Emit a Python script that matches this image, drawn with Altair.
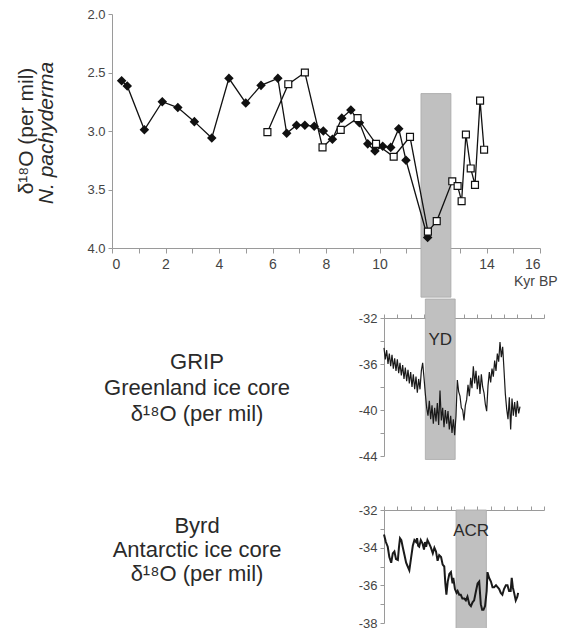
import altair as alt
import pandas as pd

# ---------------- data ----------------
# N. pachyderma d18O, filled-diamond record
diam_kyr = [0.36, 0.57, 1.21, 1.88, 2.46, 3.08, 3.73, 4.37, 5.00, 5.57, 6.20, 6.53, 6.90,
            7.21, 7.56, 7.90, 8.24, 8.59, 8.93, 9.25, 9.56, 9.83, 10.12, 10.42, 10.72, 10.99, 11.80]
diam_d18o = [2.57, 2.615, 2.99, 2.75, 2.80, 2.92, 3.06, 2.55, 2.76, 2.61, 2.55, 3.02, 2.95,
             2.95, 2.96, 3.00, 3.07, 2.89, 2.82, 2.93, 3.11, 3.17, 3.13, 3.14, 2.98, 3.25, 3.91]

# N. pachyderma d18O, open-square record
sq_kyr = [5.81, 6.59, 7.21, 7.87, 8.55, 9.18, 9.87, 10.53, 11.14, 11.81, 12.14, 12.72,
          12.92, 13.07, 13.23, 13.41, 13.57, 13.76, 13.91]
sq_d18o = [3.01, 2.60, 2.50, 3.14, 2.99, 2.89, 3.11, 3.22, 3.05, 3.86, 3.77, 3.43,
           3.47, 3.60, 3.03, 3.32, 3.46, 2.74, 3.16]

# GRIP (Greenland) d18O
grip_kyr = [10.00, 10.05, 10.10, 10.15, 10.20, 10.25, 10.30, 10.35, 10.40, 10.45,
            10.50, 10.55, 10.60, 10.65, 10.70, 10.75, 10.80, 10.85, 10.90, 10.95,
            11.00, 11.05, 11.10, 11.15, 11.20, 11.25, 11.30, 11.35, 11.40, 11.45,
            11.50, 11.55, 11.60, 11.65, 11.70, 11.75, 11.80, 11.85, 11.90, 11.95,
            12.00, 12.05, 12.10, 12.15, 12.20, 12.25, 12.30, 12.35, 12.40, 12.45,
            12.50, 12.55, 12.60, 12.65, 12.70, 12.75, 12.80, 12.85, 12.90, 12.95,
            13.00, 13.05, 13.10, 13.15, 13.20, 13.25, 13.30, 13.35, 13.40, 13.45,
            13.50, 13.55, 13.60, 13.65, 13.70, 13.75, 13.80, 13.85, 13.90, 13.95,
            14.00, 14.05, 14.10, 14.15, 14.20, 14.25, 14.30, 14.35, 14.40, 14.45,
            14.50, 14.55, 14.60, 14.65, 14.70, 14.75, 14.80, 14.85, 14.90, 14.95,
            15.00, 15.05, 15.10]
grip_d18o = [-34.6, -35.6, -34.8, -36.0, -35.1, -36.2, -35.2, -36.4, -35.5, -36.6,
             -35.6, -36.8, -35.9, -37.0, -36.1, -37.3, -36.3, -37.5, -36.5, -37.7,
             -36.7, -38.0, -36.9, -38.2, -37.1, -38.5, -37.3, -38.2, -36.6, -35.9,
             -37.2, -38.6, -39.8, -40.5, -39.2, -40.8, -39.6, -41.2, -39.8, -41.0,
             -39.4, -41.3, -38.3, -40.9, -39.8, -41.5, -40.0, -41.2, -40.1, -41.7,
             -40.5, -42.0, -40.8, -42.2, -40.5, -37.4, -38.4, -38.8, -39.8, -40.0,
             -40.9, -39.6, -39.1, -37.8, -38.8, -37.2, -38.1, -36.2, -37.7, -36.6,
             -38.2, -37.0, -38.6, -36.9, -38.0, -38.5, -39.5, -40.1, -37.9, -36.7,
             -37.6, -36.4, -37.1, -35.7, -36.6, -35.1, -35.8, -34.1, -35.4, -34.5,
             -36.5, -38.6, -39.9, -40.8, -38.9, -41.7, -39.0, -40.5, -39.3, -40.6,
             -39.2, -40.3, -39.7]

# Byrd (Antarctica) d18O
byrd_kyr = [10.00, 10.07, 10.14, 10.20, 10.27, 10.33, 10.39, 10.45, 10.52, 10.56,
            10.60, 10.65, 10.70, 10.77, 10.83, 10.89, 10.95, 11.01, 11.08, 11.14,
            11.20, 11.24, 11.28, 11.32, 11.38, 11.45, 11.50, 11.54, 11.58, 11.63,
            11.70, 11.76, 11.83, 11.89, 11.95, 12.01, 12.07, 12.14, 12.20, 12.26,
            12.30, 12.34, 12.39, 12.45, 12.51, 12.57, 12.60, 12.66, 12.72, 12.76,
            12.82, 12.88, 12.94, 13.01, 13.07, 13.13, 13.20, 13.26, 13.32, 13.38,
            13.45, 13.51, 13.57, 13.63, 13.68, 13.73, 13.79, 13.85, 13.88, 13.94,
            14.01, 14.07, 14.13, 14.20, 14.26, 14.32, 14.38, 14.44, 14.50, 14.57,
            14.63, 14.69, 14.75, 14.79, 14.83, 14.88, 14.94, 15.00, 15.03]
byrd_d18o = [-33.3, -33.7, -33.95, -34.5, -34.8, -34.3, -34.2, -34.6, -34.65, -34.0,
             -33.5, -33.6, -33.95, -34.4, -34.8, -35.0, -35.2, -34.6, -33.9, -33.6,
             -33.7, -33.5, -33.9, -33.95, -33.6, -33.8, -34.1, -33.7, -33.95, -33.6,
             -33.8, -34.0, -34.3, -34.0, -34.2, -34.7, -34.4, -34.5, -34.9, -35.0,
             -35.9, -36.5, -35.8, -35.4, -35.3, -35.9, -35.6, -36.2, -36.4, -36.3,
             -36.5, -36.5, -36.7, -36.7, -36.8, -36.6, -37.0, -37.1, -36.9, -36.8,
             -36.3, -35.9, -35.8, -37.0, -37.3, -37.3, -37.1, -36.3, -35.3, -35.6,
             -35.8, -36.1, -36.1, -36.0, -36.1, -36.2, -36.4, -36.5, -36.2, -36.0,
             -36.0, -36.3, -36.3, -35.6, -36.1, -36.4, -36.8, -36.6, -36.4]

# shaded intervals (kyr BP)
yd_band = [11.55, 12.67]
yd_top = 2.68
acr_band = [12.70, 13.84]

# tick values
top_xticks = [0, 1, 2, 3, 4, 5, 6, 7, 8, 9, 10, 11, 12, 13, 14, 15, 16]
top_yticks = [2.0, 2.5, 3.0, 3.5, 4.0]
core_xticks = [10, 10.5, 11, 11.5, 12, 12.5, 13, 13.5, 14, 14.5, 15, 15.5, 16]
grip_yticks = [-44, -42, -40, -38, -36, -34, -32]
byrd_yticks = [-38, -37, -36, -35, -34, -33, -32]

# texts
top_title_1 = "δ¹⁸O (per mil)"
top_title_2 = "N. pachyderma"
x_unit = "Kyr BP"
grip_label = ["GRIP", "Greenland ice core", "δ¹⁸O (per mil)"]
byrd_label = ["Byrd", "Antarctic ice core", "δ¹⁸O (per mil)"]

# ---------------- styling ----------------
FONT = "Liberation Sans"
AX = "#9a9a9a"
LAB = "#444444"
TXT = "#2a2a2a"
BAND_FILL = "#c0c0c0"
BAND_STROKE = "#a8a8a8"

one = pd.DataFrame({"a": [0]})

# ---------------- top panel ----------------
W1, H1 = 428, 234
xs_top = alt.Scale(domain=[0, 16], nice=False, zero=False)
ys_top = alt.Scale(domain=[2.0, 4.0], reverse=True, nice=False, zero=False)
x_axis_top = alt.Axis(values=top_xticks, labelExpr="datum.value % 2 == 0 ? datum.label : ''",
                      title=None, grid=False, domainColor=AX, tickColor=AX, tickSize=5,
                      labelColor=LAB, labelFont=FONT, labelFontSize=14, labelPadding=4)
y_axis_top = alt.Axis(values=top_yticks, format=".1f", title=None, grid=False,
                      domainColor=AX, tickColor=AX, tickSize=4, labelColor=LAB,
                      labelFont=FONT, labelFontSize=13, labelPadding=3)

df_d = pd.DataFrame({"kyr": diam_kyr, "d": diam_d18o})
df_s = pd.DataFrame({"kyr": sq_kyr, "d": sq_d18o})
band_top_df = pd.DataFrame({"x": [yd_band[0]], "x2": [yd_band[1]], "y": [yd_top]})

def X1(f):
    return alt.X(f, scale=xs_top, axis=x_axis_top)

def Y1(f):
    return alt.Y(f, scale=ys_top, axis=y_axis_top)

band_top = alt.Chart(band_top_df).mark_rect(fill=BAND_FILL, stroke=BAND_STROKE, strokeWidth=0.8).encode(
    x=X1("x:Q"), x2="x2:Q", y=Y1("y:Q"), y2=alt.datum(4.42))
line_d = alt.Chart(df_d).mark_line(color="#111", strokeWidth=1.3).encode(x=X1("kyr:Q"), y=Y1("d:Q"))
line_s = alt.Chart(df_s).mark_line(color="#111", strokeWidth=1.3).encode(x=X1("kyr:Q"), y=Y1("d:Q"))
pts_d = alt.Chart(df_d).mark_point(shape="diamond", filled=True, fill="#111", stroke="#111",
                                   size=45, opacity=1).encode(x=X1("kyr:Q"), y=Y1("d:Q"))
pts_s = alt.Chart(df_s).mark_point(shape="square", filled=True, fill="white", stroke="#111",
                                   strokeWidth=1.2, size=48, opacity=1).encode(x=X1("kyr:Q"), y=Y1("d:Q"))
t1 = alt.Chart(one).mark_text(angle=270, font=FONT, fontSize=21, color=TXT).encode(
    x=alt.value(-85.5), y=alt.value(H1 / 2), text=alt.value(top_title_1))
t2 = alt.Chart(one).mark_text(angle=270, font=FONT, fontSize=21, fontStyle="italic", color=TXT).encode(
    x=alt.value(-65), y=alt.value(H1 / 2 + 2), text=alt.value(top_title_2))
t_unit = alt.Chart(one).mark_text(align="left", baseline="middle", font=FONT, fontSize=14, color=LAB).encode(
    x=alt.value(402), y=alt.value(268), text=alt.value(x_unit))

top = alt.layer(band_top, line_d, line_s, pts_d, pts_s, t1, t2, t_unit).properties(width=W1, height=H1)

# ---------------- core panels ----------------
W2 = 160
xs_core = alt.Scale(domain=[10, 16], nice=False, zero=False)
x_axis_core = alt.Axis(orient="top", values=core_xticks, labels=False, title=None, grid=False,
                       domainColor=AX, tickColor=AX, tickSize=4, minExtent=0)

def core_panel(kyr, vals, band, ydom, yticks, label_mod, height, band_y1, band_y2, band_text,
               text_y, line_w):
    ys = alt.Scale(domain=ydom, nice=False, zero=False)
    yax = alt.Axis(values=yticks, title=None, grid=False, domainColor=AX, tickColor=AX, tickSize=4,
                   labelColor=LAB, labelFont=FONT, labelFontSize=13, labelPadding=3,
                   labelExpr=f"datum.value % {label_mod} == 0 ? '-' + abs(datum.value) : ''")
    bdf = pd.DataFrame({"x": [band[0]], "x2": [band[1]], "t": [band_text]})
    ldf = pd.DataFrame({"kyr": kyr, "v": vals})
    X = lambda f: alt.X(f, scale=xs_core, axis=x_axis_core)
    Y = lambda f: alt.Y(f, scale=ys, axis=yax)
    b = alt.Chart(bdf).mark_rect(fill=BAND_FILL, stroke=BAND_STROKE, strokeWidth=0.8).encode(
        x=X("x:Q"), x2="x2:Q", y=alt.datum(band_y1, scale=ys, axis=yax), y2=alt.datum(band_y2))
    ln = alt.Chart(ldf).mark_line(color="#1a1a1a", strokeWidth=line_w).encode(x=X("kyr:Q"), y=Y("v:Q"))
    tx = alt.Chart(bdf).transform_calculate(xm="(datum.x + datum.x2) / 2").mark_text(
        font=FONT, fontSize=17, color=TXT, baseline="middle").encode(
        x=X("xm:Q"), y=alt.value(text_y), text="t:N")
    return alt.layer(b, ln, tx).properties(width=W2, height=height)

grip = core_panel(grip_kyr, grip_d18o, yd_band, [-44, -32], grip_yticks, 4, 138,
                  -30.35, -44.3, "YD", 22, 1.2)
byrd = core_panel(byrd_kyr, byrd_d18o, acr_band, [-38, -32], byrd_yticks, 2, 113,
                  -32, -38.4, "ACR", 21, 2.0)

LW = 246
lab_grip = alt.Chart(one).mark_text(font=FONT, fontSize=22, lineHeight=26, color=TXT,
                                    align="center", baseline="middle").encode(
    x=alt.value(85), y=alt.value(44), text=alt.value(grip_label)).properties(width=LW, height=138)
lab_byrd = alt.Chart(one).mark_text(font=FONT, fontSize=22, lineHeight=24, color=TXT,
                                    align="center", baseline="middle").encode(
    x=alt.value(85), y=alt.value(16), text=alt.value(byrd_label)).properties(width=LW, height=113)

row2 = alt.hconcat(lab_grip, grip, spacing=0)
row3 = alt.hconcat(lab_byrd, byrd, spacing=0)

chart = alt.vconcat(alt.vconcat(top, row2, spacing=0), row3, spacing=41).properties(
    padding={"left": 7, "top": 0, "right": 0, "bottom": 0},
    background="white",
).configure_view(stroke=None)

chart.save("out.html", embed_options={"renderer": "svg", "actions": False})
